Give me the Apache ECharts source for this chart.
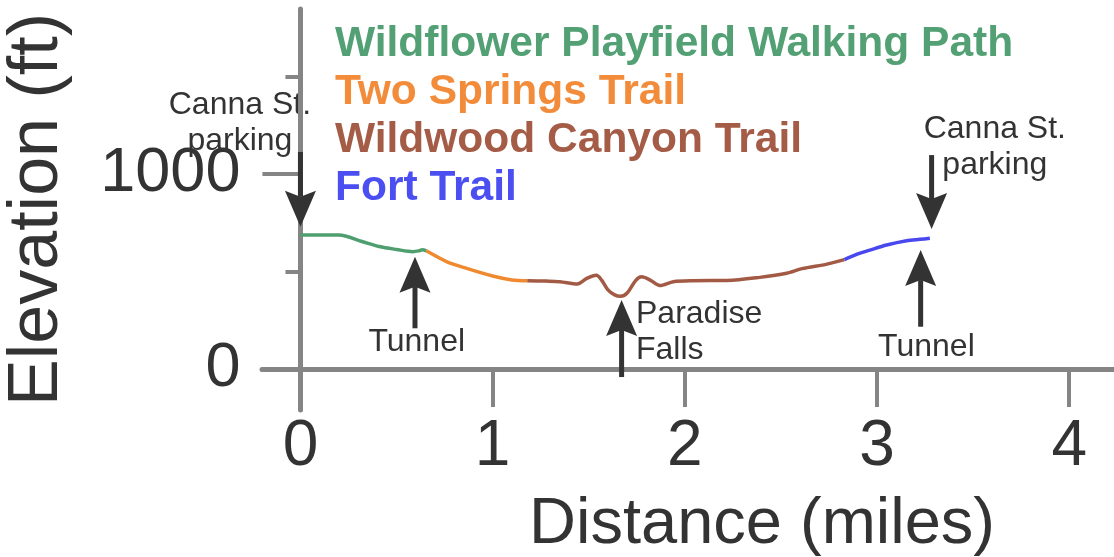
<!DOCTYPE html>
<html>
<head>
<meta charset="utf-8">
<title>Trail elevation profile</title>
<script src="https://cdn.jsdelivr.net/npm/echarts@6/dist/echarts.min.js"></script>
<style>
  html, body { margin: 0; padding: 0; background: #fff; }
  #main { width: 1114px; height: 557px; }
</style>
</head>
<body>
<div id="main"></div>
<script>
// trail segments as [miles, feet]
const wildflower = [[0, 687], [0.2, 687], [0.32, 654], [0.41, 628], [0.5, 613], [0.585, 602], [0.615, 606], [0.635, 612], [0.655, 606]];
const twoSprings = [[0.655, 606], [0.76, 551], [0.865, 516], [1.0, 477], [1.1, 457], [1.18, 453]];
const wildwood = [[1.18, 453], [1.28, 451], [1.35, 448], [1.44, 436], [1.49, 465], [1.54, 481], [1.567, 456], [1.6, 406],
  [1.635, 380], [1.665, 373], [1.7, 390], [1.745, 455], [1.775, 473], [1.82, 456], [1.87, 428], [1.94, 448],
  [2.04, 453], [2.22, 454], [2.39, 470], [2.53, 491], [2.61, 515], [2.74, 538], [2.83, 561]];
const fort = [[2.83, 561], [2.9, 590], [2.963, 610], [3.05, 636], [3.154, 658], [3.223, 665], [3.275, 670]];

const trailNames = ['Wildflower Playfield Walking Path', 'Two Springs Trail', 'Wildwood Canyon Trail', 'Fort Trail'];

const xTicks = [0, 1, 2, 3, 4];
const yMajor = [0, 1000];
const yMinor = [500, 1500];

// arrows: distance, tail elevation, tip elevation
const arrowX = [0, 0.596, 1.671, 3.227, 3.284];
const arrowTail = [1113, 209, -41, 217, 1097];
const arrowTip = [730, 576, 354, 610, 718];

// annotation texts and where they sit
const noteText = ['Canna St.\nparking', 'Tunnel', 'Paradise\nFalls', 'Tunnel', 'Canna St.\nparking'];
const noteX = [-0.315, 0.605, 1.746, 3.257, 3.613];
const noteY = [1259, 136, 187, 114, 1138];

const font = "'Liberation Sans', Arial, Helvetica, sans-serif";
const ink = '#333333';
const axisGrey = '#858585';
const lineColors = ['#4f9e6f', '#f08a30', '#a35a45', '#4848ee'];
const textColors = ['#52a074', '#f28c3a', '#a55c47', '#4b4ff2'];
const noteAlign = ['center', 'center', 'left', 'center', 'center'];

const xMin = -0.2, xMax = 4.233, yMin = -210, yMax = 1846;
const gridLeft = 262;
const pxPerMile = (1114 - gridLeft) / (xMax - xMin);

let chart = echarts.init(document.getElementById('main'));

let segs = [wildflower, twoSprings, wildwood, fort];

let series = segs.map((d, i) => ({
  name: trailNames[i],
  type: 'line',
  data: d,
  smooth: 0.3,
  showSymbol: false,
  yAxisIndex: 0,
  lineStyle: {color: lineColors[i], width: 3.5},
  itemStyle: {color: lineColors[i]},
  emphasis: {disabled: true}
}));

// black pointer arrows
series.push({
  name: 'arrows',
  type: 'custom',
  silent: true,
  clip: false,
  yAxisIndex: 0,
  encode: {x: 0, y: 1},
  data: arrowX.map((x, i) => [x, arrowTail[i], arrowTip[i]]),
  renderItem(params, api) {
    let x = api.value(0);
    let p0 = api.coord([x, api.value(1)]);
    let p1 = api.coord([x, api.value(2)]);
    let dir = p1[1] > p0[1] ? 1 : -1;
    let headLen = 36, half = 15.5, notch = 6;
    let base = p1[1] - dir * headLen;
    return {
      type: 'group',
      children: [
        {
          type: 'line',
          shape: {x1: p0[0], y1: p0[1], x2: p1[0], y2: base + dir * notch},
          style: {stroke: ink, lineWidth: 5}
        },
        {
          type: 'polygon',
          shape: {points: [[p1[0], p1[1]], [p1[0] + half, base], [p1[0], base + dir * notch], [p1[0] - half, base]]},
          style: {fill: ink}
        }
      ]
    };
  }
});

let option = {
  animation: false,
  backgroundColor: '#ffffff',
  textStyle: {fontFamily: font},
  grid: {left: gridLeft, right: 0, top: 9, bottom: 147, outerBoundsMode: 'none'},
  legend: {
    left: 330,
    top: 20,
    orient: 'vertical',
    padding: 0,
    itemGap: 0,
    itemWidth: 0,
    itemHeight: 14,
    icon: 'none',
    selectedMode: false,
    textStyle: {fontFamily: font, fontSize: 42.5, fontWeight: 'bold', lineHeight: 48},
    data: trailNames.map((n, i) => ({name: n, textStyle: {color: textColors[i]}}))
  },
  xAxis: {
    type: 'value',
    min: xMin,
    max: xMax,
    name: 'Distance (miles)',
    nameLocation: 'middle',
    nameGap: 83,
    nameTextStyle: {fontSize: 65, color: ink, padding: [0, 0, 0, 148]},
    axisLine: {onZero: true, lineStyle: {color: axisGrey, width: 5}},
    axisTick: {customValues: xTicks, length: 38, lineStyle: {color: axisGrey, width: 4}},
    axisLabel: {customValues: xTicks, margin: 5, fontSize: 64, color: ink},
    splitLine: {show: false}
  },
  yAxis: [
    {
      type: 'value',
      min: yMin,
      max: yMax,
      position: 'left',
      name: 'Elevation (ft)',
      nameLocation: 'middle',
      nameGap: 189,
      nameTextStyle: {fontSize: 70, color: ink},
      axisLine: {onZero: true, lineStyle: {color: axisGrey, width: 5}},
      axisTick: {customValues: yMinor, length: 15, lineStyle: {color: axisGrey, width: 4}},
      axisLabel: {show: false},
      splitLine: {show: false}
    },
    {
      type: 'value',
      min: yMin,
      max: yMax,
      position: 'left',
      offset: xMin * pxPerMile,
      axisLine: {show: false, onZero: false},
      axisTick: {customValues: yMajor, length: 38, lineStyle: {color: axisGrey, width: 4}},
      axisLabel: {customValues: yMajor, margin: 60, fontSize: 63, color: ink, formatter: v => String(v)},
      splitLine: {show: false}
    }
  ],
  series: series
};

chart.setOption(option);

// place the annotation texts through the chart's own scales
let notes = noteText.map((t, i) => {
  let p = chart.convertToPixel({xAxisIndex: 0, yAxisIndex: 0}, [noteX[i], noteY[i]]);
  return {
    type: 'text',
    x: p[0],
    y: p[1],
    silent: true,
    style: {
      text: t,
      fontFamily: font,
      fontSize: 32,
      lineHeight: 36,
      fill: ink,
      align: noteAlign[i],
      verticalAlign: 'middle'
    }
  };
});
chart.setOption({graphic: notes});
</script>
</body>
</html>
